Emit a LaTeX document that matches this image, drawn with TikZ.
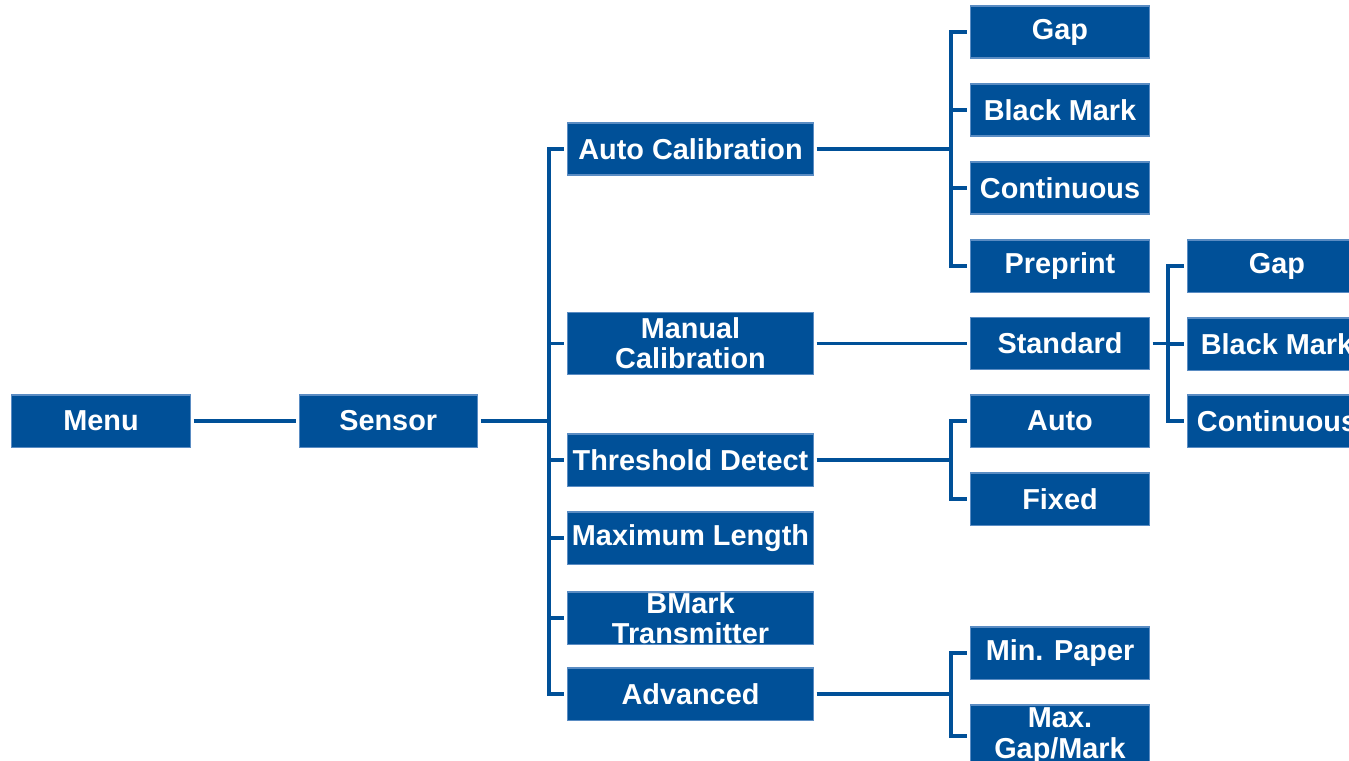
\documentclass[tikz,border=0pt]{standalone}
\usepackage{fontspec}
\setmainfont{Liberation Sans}
\usepackage{tikz}
\usetikzlibrary{positioning, calc}
\definecolor{menuBlue}{RGB}{0, 80, 152}
\definecolor{menuEdge}{RGB}{90, 140, 195}
\tikzset{
  menubox/.style={
    rectangle,
    draw=menuEdge, line width=0.3pt,
    fill=menuBlue,
    minimum width=1.78cm,
    minimum height=0.52cm,
    inner sep=0pt,
    align=center,
    text=white,
    font=\bfseries\fontsize{8.2}{8.6}\selectfont
  },
  widebox/.style={
    menubox,
    minimum width=2.45cm
  },
  link/.style={
    line width=0.9pt,
    color=menuBlue,
    shorten >=0.03cm
  }
}
\begin{document}
\begin{tikzpicture}[
  x=0.01cm, y=-0.01cm,
  node distance = 0.26cm and 1.08cm
]
\useasboundingbox (0,0) rectangle (1349,760);

% --- Root ---
\node[menubox] (menu) at (101,421) {Menu};
\node[menubox, right=of menu] (sensor) {Sensor};

% --- Sensor items ---
\node[widebox] (autocal) at (690.5,149) {Auto Calibration};
\node[widebox, minimum height=0.62cm] (mancal) at (690.5,343.5) {Manual\\Calibration};
\node[widebox] (thresh) at (690.5,460) {Threshold Detect};
\node[widebox] (maxlen) at (690.5,538) {Maximum Length};
\node[widebox] (bmark) at (690.5,618) {BMark\\Transmitter};
\node[widebox] (advanced) at (690.5,694) {Advanced};

% --- Auto calibration items ---
\node[menubox] (acgap) at (1060,32) {Gap};
\node[menubox] (acbmark) at (1060,110) {Black Mark};
\node[menubox] (accont) at (1060,188) {Continuous};
\node[menubox] (acpre) at (1060,266) {Preprint};

% --- Manual calibration items ---
\node[menubox] (standard) at (1060,343.5) {Standard};
\node[menubox] (stgap) at (1277,266) {Gap};
\node[menubox] (stbmark) at (1277,344) {Black Mark};
\node[menubox] (stcont) at (1277,421) {Continuous};

% --- Threshold items ---
\node[menubox] (thauto) at (1060,421) {Auto};
\node[menubox] (thfixed) at (1060,499) {Fixed};

% --- Advanced items ---
\node[menubox] (minpaper) at (1060,653) {Min. Paper};
\node[menubox, minimum height=0.62cm] (maxgap) at (1060,736) {Max.\\Gap/Mark};

% --- bus points ---
\coordinate (sbus) at (549,421);
\coordinate (acbus) at (951,149);
\coordinate (stbus) at (1168,343.5);
\coordinate (thbus) at (951,460);
\coordinate (adbus) at (951,694);

% --- connectors ---
\draw[link, shorten <=0.03cm] (menu) -- (sensor);
\draw[link, shorten >=0pt, shorten <=0.03cm] (sensor) -- (sbus);
\foreach \c in {autocal, mancal, thresh, maxlen, bmark, advanced}
  \draw[link] (sbus) |- (\c.west);

\draw[link, shorten >=0pt, shorten <=0.03cm] (autocal) -- (acbus);
\foreach \c in {acgap, acbmark, accont, acpre}
  \draw[link] (acbus) |- (\c.west);

\draw[link, shorten <=0.03cm] (mancal) -- (standard);

\draw[link, shorten >=0pt, shorten <=0.03cm] (standard) -- (stbus);
\foreach \c in {stgap, stbmark, stcont}
  \draw[link] (stbus) |- (\c.west);

\draw[link, shorten >=0pt, shorten <=0.03cm] (thresh) -- (thbus);
\foreach \c in {thauto, thfixed}
  \draw[link] (thbus) |- (\c.west);

\draw[link, shorten >=0pt, shorten <=0.03cm] (advanced) -- (adbus);
\foreach \c in {minpaper, maxgap}
  \draw[link] (adbus) |- (\c.west);

\end{tikzpicture}
\end{document}
